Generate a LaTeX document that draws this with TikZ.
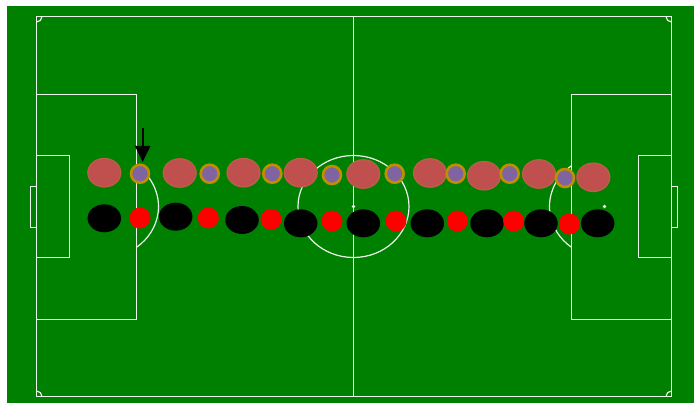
\documentclass[tikz,border=0pt]{standalone}
\usetikzlibrary{shapes.geometric,arrows.meta}
\definecolor{grass}{HTML}{008000}
\definecolor{rosered}{HTML}{C0504D}
\definecolor{rosering}{HTML}{B8604A}
\definecolor{violet}{HTML}{8064A2}
\definecolor{amber}{HTML}{BF8F00}
\definecolor{chalk}{HTML}{EAF4EA}
\begin{document}
\begin{tikzpicture}[
    x=1pt, y=-1pt,
    line/.style={draw=chalk, line width=1.2pt},
    spot/.style={circle, fill=chalk, minimum size=3.6pt, inner sep=0pt, outer sep=0pt},
    rosebig/.style={ellipse, draw=rosering, line width=1.2pt, fill=rosered,
                    minimum width=33pt, minimum height=28.5pt, inner sep=0pt, outer sep=0pt},
    rosesmall/.style={circle, draw=amber, line width=2.6pt, fill=violet,
                      minimum size=18pt, inner sep=0pt, outer sep=0pt},
    blackbig/.style={ellipse, fill=black, minimum width=33.5pt, minimum height=28pt,
                     inner sep=0pt, outer sep=0pt},
    redsmall/.style={circle, fill=red, minimum size=21pt, inner sep=0pt, outer sep=0pt},
    pointer/.style={-{Triangle[width=15pt,length=16pt]}, line width=2pt, black}
]
\useasboundingbox (0,0) rectangle (694,403);
\fill[grass] (7,6) rectangle (694,403);

% pitch
\draw[line] (36.5,16.5) rectangle (671.5,396.5);
\draw[line] (353.5,16.5) -- (353.5,396.5);
\draw[line] (353.5,206.5) ellipse[x radius=55.5, y radius=51];
\node[spot] (mid) at (353.5,206.5) {};
\node[spot] (pen) at (604.5,206.5) {};
\draw[line] (36.5,94.5) rectangle (136.5,319.5);
\draw[line] (36.5,155.5) rectangle (69.5,257.5);
\draw[line] (36.5,186.5) rectangle (30.5,227.5);
\draw[line] (671.5,94.5) rectangle (571.5,319.5);
\draw[line] (671.5,155.5) rectangle (638.5,257.5);
\draw[line] (671.5,186.5) rectangle (677.5,227.5);
\draw[line] (136.5,165.7) arc[start angle=-53.13, end angle=53.13, x radius=55, y radius=51];
\draw[line] (571.5,165.7) arc[start angle=233.13, end angle=126.87, x radius=55, y radius=51];
\draw[line] (42,16.5) arc[start angle=0, end angle=90, radius=5.5];
\draw[line] (666,16.5) arc[start angle=180, end angle=90, radius=5.5];
\draw[line] (42,396.5) arc[start angle=0, end angle=-90, radius=5.5];
\draw[line] (666,396.5) arc[start angle=180, end angle=270, radius=5.5];

% top row
\node[rosebig] (a1) at (104.3,172.7) {};
\node[rosesmall] (b1) at (140,173.7) {};
\node[rosebig] (a2) at (179.7,173) {};
\node[rosesmall] (b2) at (209.7,173.7) {};
\node[rosebig] (a3) at (243.5,172.7) {};
\node[rosesmall] (b3) at (272.3,173.7) {};
\node[rosebig] (a4) at (300.7,172.7) {};
\node[rosesmall] (b4) at (332,175) {};
\node[rosebig] (a5) at (363.3,174) {};
\node[rosesmall] (b5) at (394.7,173.7) {};
\node[rosebig] (a6) at (430,173) {};
\node[rosesmall] (b6) at (455.7,173.7) {};
\node[rosebig] (a7) at (484,175.7) {};
\node[rosesmall] (b7) at (509.7,173.7) {};
\node[rosebig] (a8) at (539,174) {};
\node[rosesmall] (b8) at (565,178) {};
\node[rosebig] (a9) at (593.3,177.3) {};

% bottom row
\node[blackbig] (c1) at (104.3,218.3) {};
\node[redsmall] (d1) at (140,218) {};
\node[blackbig] (c2) at (175.7,216.7) {};
\node[redsmall] (d2) at (208.3,218) {};
\node[blackbig] (c3) at (242,220) {};
\node[redsmall] (d3) at (271,219.3) {};
\node[blackbig] (c4) at (300.7,223.3) {};
\node[redsmall] (d4) at (332,221) {};
\node[blackbig] (c5) at (363.3,223.3) {};
\node[redsmall] (d5) at (396,221) {};
\node[blackbig] (c6) at (427.3,223.3) {};
\node[redsmall] (d6) at (457.3,221) {};
\node[blackbig] (c7) at (487,223.3) {};
\node[redsmall] (d7) at (513.7,221) {};
\node[blackbig] (c8) at (541,223.3) {};
\node[redsmall] (d8) at (569.3,224) {};
\node[blackbig] (c9) at (597.7,223.3) {};

\coordinate (tail) at (142.7,128);
\coordinate (tip) at (142.7,162);
\draw[pointer] (tail) -- (tip);
\end{tikzpicture}
\end{document}
